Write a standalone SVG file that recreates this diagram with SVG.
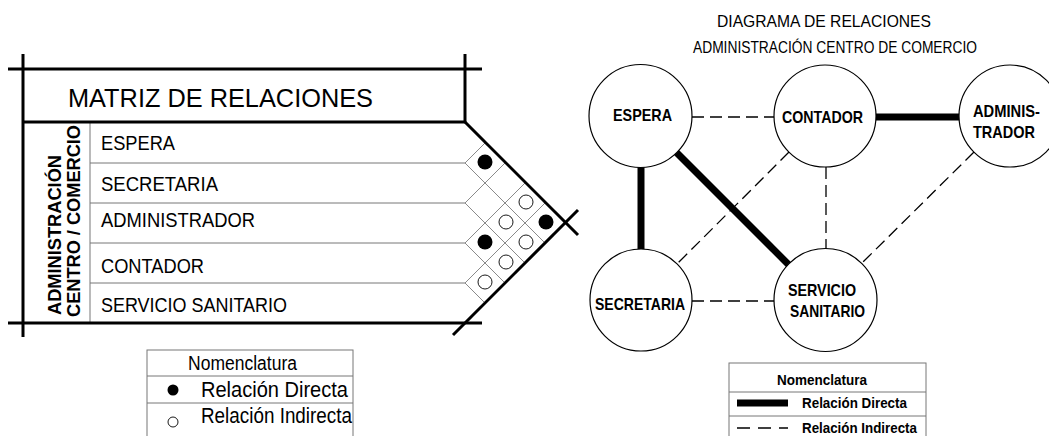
<svg xmlns="http://www.w3.org/2000/svg" width="1049" height="436" viewBox="0 0 1049 436">
<style>
text{font-family:"Liberation Sans",Arial,sans-serif;fill:#000}
.thick{stroke:#000;stroke-width:3;fill:none}
.thin{stroke:#777;stroke-width:1;fill:none}
.grid{stroke:#8a8a8a;stroke-width:1;fill:none}
.row{font-size:19.5px}
.vert{font-size:18px;font-weight:bold}
.node{fill:#fff;stroke:#000;stroke-width:1.2}
.lbl{font-size:17px;font-weight:bold}
.leg{font-size:14.5px;font-weight:bold}
.direct{stroke:#000;stroke-width:7;fill:none}
.indirect{stroke:#000;stroke-width:1.3;stroke-dasharray:12 6;fill:none}
.full{fill:#000}
.empty{fill:#fff;stroke:#000;stroke-width:0.9}
</style>
<rect width="1049" height="436" fill="#fff"/>

<g id="matrix">
  <line class="thin" x1="90" y1="122" x2="90" y2="323"/>
  <line class="thin" x1="90" y1="163" x2="465" y2="163"/>
  <line class="thin" x1="90" y1="203" x2="465" y2="203"/>
  <line class="thin" x1="90" y1="243" x2="465" y2="243"/>
  <line class="thin" x1="90" y1="283" x2="465" y2="283"/>
  <g class="grid">
    <line x1="465" y1="163" x2="485.5" y2="142.5"/>
    <line x1="465" y1="163" x2="545" y2="243"/>
    <line x1="465" y1="203" x2="505.5" y2="162.5"/>
    <line x1="465" y1="203" x2="525" y2="263"/>
    <line x1="465" y1="243" x2="525.5" y2="182.5"/>
    <line x1="465" y1="243" x2="505" y2="283"/>
    <line x1="465" y1="283" x2="545.5" y2="202.5"/>
    <line x1="465" y1="283" x2="485" y2="303"/>
  </g>
  <line class="thick" x1="8" y1="69" x2="482" y2="69"/>
  <line class="thick" x1="23" y1="54" x2="23" y2="337"/>
  <line class="thick" x1="465" y1="54" x2="465" y2="122"/>
  <line class="thick" x1="23" y1="122" x2="465" y2="122"/>
  <line class="thick" x1="8" y1="323" x2="482" y2="323"/>
  <line class="thick" x1="465" y1="122" x2="578" y2="235" stroke-width="2.5"/>
  <line class="thick" x1="453" y1="335" x2="578" y2="210" stroke-width="2.5"/>
  <text x="68" y="107" font-size="26" textLength="305" lengthAdjust="spacingAndGlyphs">MATRIZ DE RELACIONES</text>
  <text class="vert" transform="translate(61,315) rotate(-90)" textLength="160" lengthAdjust="spacingAndGlyphs">ADMINISTRACIÓN</text>
  <text class="vert" transform="translate(80,317) rotate(-90)" textLength="192" lengthAdjust="spacingAndGlyphs">CENTRO / COMERCIO</text>
  <text class="row" x="101" y="150" textLength="74" lengthAdjust="spacingAndGlyphs">ESPERA</text>
  <text class="row" x="101" y="191" textLength="117" lengthAdjust="spacingAndGlyphs">SECRETARIA</text>
  <text class="row" x="101" y="227" textLength="154" lengthAdjust="spacingAndGlyphs">ADMINISTRADOR</text>
  <text class="row" x="101" y="273" textLength="103" lengthAdjust="spacingAndGlyphs">CONTADOR</text>
  <text class="row" x="101" y="312" textLength="186" lengthAdjust="spacingAndGlyphs">SERVICIO SANITARIO</text>
  <circle class="full" cx="485" cy="162" r="7.5"/>
  <circle class="full" cx="485" cy="242" r="7.5"/>
  <circle class="full" cx="546" cy="222" r="7.5"/>
  <circle class="empty" cx="526" cy="202" r="7"/>
  <circle class="empty" cx="506" cy="222" r="7"/>
  <circle class="empty" cx="526" cy="242" r="7"/>
  <circle class="empty" cx="506" cy="262" r="7"/>
  <circle class="empty" cx="485" cy="282" r="7"/>
</g>

<g id="legend-matrix">
  <rect class="thin" x="147" y="350" width="206" height="100"/>
  <line class="thin" x1="147" y1="376" x2="353" y2="376"/>
  <line class="thin" x1="147" y1="403" x2="353" y2="403"/>
  <text x="188" y="370" font-size="20" textLength="109" lengthAdjust="spacingAndGlyphs">Nomenclatura</text>
  <circle class="full" cx="173" cy="390" r="5.5"/>
  <text x="201" y="397" font-size="22" textLength="147" lengthAdjust="spacingAndGlyphs">Relación Directa</text>
  <circle class="empty" cx="173" cy="422" r="5"/>
  <text x="201" y="423" font-size="22" textLength="151" lengthAdjust="spacingAndGlyphs">Relación Indirecta</text>
</g>

<g id="title">
  <text x="717" y="27" font-size="16.5" textLength="214" lengthAdjust="spacingAndGlyphs">DIAGRAMA DE RELACIONES</text>
  <text x="693" y="52.5" font-size="16.5" textLength="284" lengthAdjust="spacingAndGlyphs">ADMINISTRACIÓN CENTRO DE COMERCIO</text>
</g>

<g id="connectors">
  <line class="indirect" x1="692" y1="117" x2="774" y2="117"/>
  <line class="direct" x1="876" y1="117" x2="960" y2="117"/>
  <line class="direct" x1="641" y1="167" x2="641" y2="250"/>
  <line class="direct" x1="676" y1="152" x2="789" y2="265"/>
  <line class="indirect" x1="789" y1="152" x2="677" y2="264"/>
  <line class="indirect" x1="826" y1="167" x2="826" y2="249"/>
  <line class="indirect" x1="974" y1="152" x2="861" y2="264"/>
  <line class="indirect" x1="692" y1="301" x2="774" y2="301"/>
</g>

<g id="node-espera">
  <circle class="node" cx="640.5" cy="116" r="51.5"/>
  <text class="lbl" x="613" y="121" textLength="59" lengthAdjust="spacingAndGlyphs">ESPERA</text>
</g>
<g id="node-contador">
  <circle class="node" cx="825" cy="116" r="51"/>
  <text class="lbl" x="782" y="123" textLength="81" lengthAdjust="spacingAndGlyphs">CONTADOR</text>
</g>
<g id="node-administrador">
  <circle class="node" cx="1010" cy="116" r="51"/>
  <text class="lbl" x="973" y="117" textLength="67" lengthAdjust="spacingAndGlyphs">ADMINIS-</text>
  <text class="lbl" x="973" y="138" textLength="62" lengthAdjust="spacingAndGlyphs">TRADOR</text>
</g>
<g id="node-secretaria">
  <circle class="node" cx="641" cy="300" r="51"/>
  <text class="lbl" x="595" y="310" textLength="90" lengthAdjust="spacingAndGlyphs">SECRETARIA</text>
</g>
<g id="node-servicio">
  <circle class="node" cx="825.5" cy="300" r="51.5"/>
  <text class="lbl" x="788" y="296" textLength="68" lengthAdjust="spacingAndGlyphs">SERVICIO</text>
  <text class="lbl" x="790" y="317" textLength="75" lengthAdjust="spacingAndGlyphs">SANITARIO</text>
</g>

<g id="legend-diagram">
  <rect class="thin" x="729" y="363" width="197" height="90"/>
  <line class="thin" x1="729" y1="392" x2="926" y2="392"/>
  <line class="thin" x1="729" y1="416" x2="926" y2="416"/>
  <text class="leg" x="777" y="385" textLength="90" lengthAdjust="spacingAndGlyphs">Nomenclatura</text>
  <line class="direct" x1="737" y1="403" x2="788" y2="403"/>
  <text class="leg" x="802" y="408" textLength="105" lengthAdjust="spacingAndGlyphs">Relación Directa</text>
  <line stroke="#000" stroke-width="1.3" stroke-dasharray="13 8" x1="737" y1="428" x2="788" y2="428"/>
  <text class="leg" x="802" y="433" textLength="115" lengthAdjust="spacingAndGlyphs">Relación Indirecta</text>
</g>
</svg>
